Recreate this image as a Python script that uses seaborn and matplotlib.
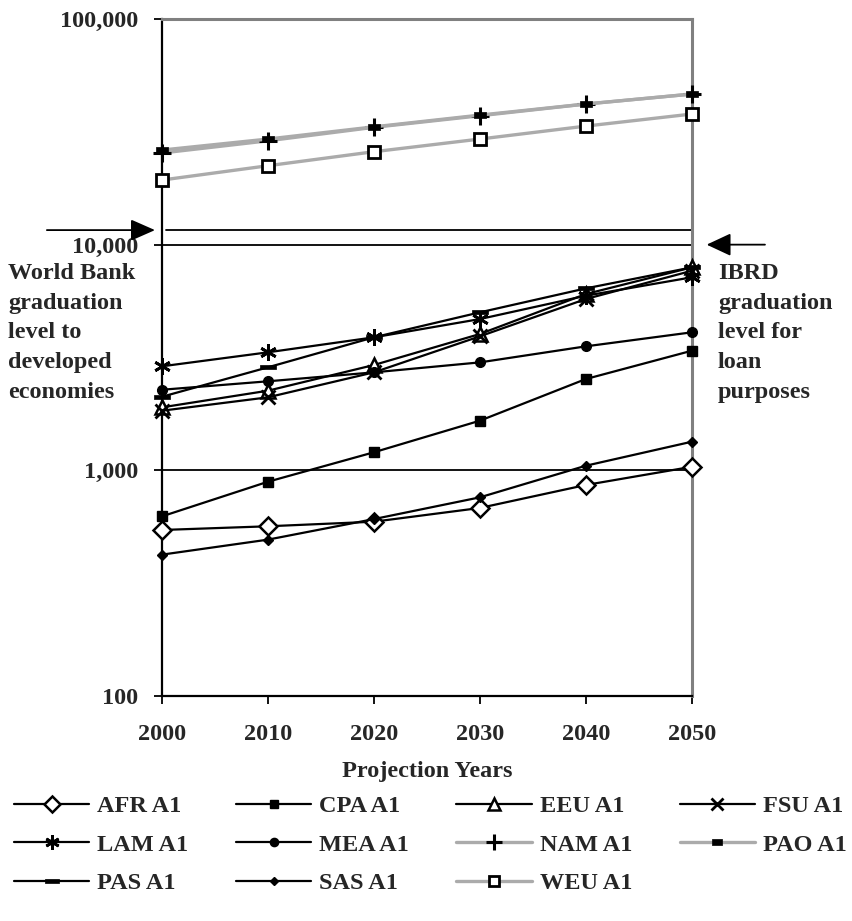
import matplotlib
matplotlib.use('Agg')
import matplotlib.pyplot as plt
import matplotlib.ticker as mticker
import seaborn as sns

# GDP per capita projections (A1 scenario)
years = [2000, 2010, 2020, 2030, 2040, 2050]
afr = [544, 565, 592, 681, 861, 1037]
cpa = [625, 890, 1202, 1659, 2538, 3388]
eeu = [1901, 2253, 2928, 4018, 6040, 7930]
fsu = [1837, 2106, 2717, 3924, 5742, 7660]
lam = [2890, 3333, 3884, 4680, 5940, 7165]
mea = [2275, 2480, 2717, 3008, 3543, 4088]
nam = [25470, 28850, 33100, 37250, 41980, 46470]
pao = [26250, 29370, 33270, 37500, 42000, 46500]
pas = [2118, 2860, 3884, 5012, 6400, 7930]
sas = [423, 493, 608, 759, 1048, 1339]
weu = [19330, 22370, 25810, 29370, 33520, 37910]

names = ['AFR A1', 'CPA A1', 'EEU A1', 'FSU A1', 'LAM A1', 'MEA A1',
         'NAM A1', 'PAO A1', 'PAS A1', 'SAS A1', 'WEU A1']
values = [afr, cpa, eeu, fsu, lam, mea, nam, pao, pas, sas, weu]

wb_level = 11600     # World Bank graduation level
ibrd_level = 10000   # IBRD graduation level
y_ticks = [100, 1000, 10000, 100000]

sns.set_style('ticks')
plt.rcParams['font.family'] = ['Liberation Serif', 'DejaVu Serif']
plt.rcParams['font.weight'] = 'bold'
FS = 17.5

GRAY = '#ababab'
rect = [(-1, -0.55), (1, -0.55), (1, 0.55), (-1, 0.55), (-1, -0.55)]
dash = [(-1, -0.28), (1, -0.28), (1, 0.28), (-1, 0.28), (-1, -0.28)]
styles = {
    'AFR A1': dict(color='black', marker='D', ms=9, mfc='white', mew=1.8),
    'CPA A1': dict(color='black', marker='s', ms=7, mfc='black', mew=1),
    'EEU A1': dict(color='black', marker='^', ms=10, mfc='white', mew=1.8),
    'FSU A1': dict(color='black', marker='x', ms=10, mfc='black', mew=2),
    'LAM A1': dict(color='black', marker=(6, 2, 0), ms=12, mfc='black', mew=2),
    'MEA A1': dict(color='black', marker='o', ms=7, mfc='black', mew=1),
    'NAM A1': dict(color=GRAY, marker='+', ms=13, mfc='black', mew=2.2),
    'PAO A1': dict(color=GRAY, marker=rect, ms=8, mfc='black', mew=0.5),
    'PAS A1': dict(color='black', marker=dash, ms=12, mfc='black', mew=0.5),
    'SAS A1': dict(color='black', marker='D', ms=5, mfc='black', mew=1),
    'WEU A1': dict(color=GRAY, marker='s', ms=9, mfc='white', mew=2),
}

fig = plt.figure(figsize=(8.52, 9.21), dpi=100)
ax = fig.add_axes([0.190, 0.2443, 0.622, 0.7351])

handles = {}
for name, vals in zip(names, values):
    st = styles[name]
    lw = 2.4 if st['color'] == GRAY else 1.6
    sns.lineplot(x=years, y=vals, ax=ax, color=st['color'], lw=lw,
                 marker=st['marker'], ms=st['ms'], mfc=st['mfc'],
                 mec='black', mew=st['mew'], clip_on=False, zorder=3)
    handles[name] = ax.lines[-1]

ax.set_yscale('log')
ax.set_ylim(100, 100000)
ax.set_xlim(2000, 2050)
ax.yaxis.set_major_locator(mticker.FixedLocator(y_ticks))
ax.yaxis.set_minor_locator(mticker.NullLocator())
ax.yaxis.set_major_formatter(mticker.FuncFormatter(lambda v, p: f'{int(v):,}'))
ax.set_xticks(years)
ax.yaxis.grid(True, color='black', lw=1.3)
ax.set_axisbelow(True)

ax.axhline(wb_level, xmin=0.008, xmax=1, color='black', lw=1.3)

for s in ['left', 'bottom']:
    ax.spines[s].set_color('black')
    ax.spines[s].set_linewidth(1.6)
for s in ['top', 'right']:
    ax.spines[s].set_color('#808080')
    ax.spines[s].set_linewidth(2.2)

ax.tick_params(axis='both', direction='out', length=6, width=1.3,
               labelsize=FS, color='black')
ax.tick_params(axis='x', pad=14)
ax.tick_params(axis='y', pad=11)
for lbl in ax.get_xticklabels() + ax.get_yticklabels():
    lbl.set_fontweight('bold')

ax.set_xlabel('Projection Years', fontsize=FS, fontweight='bold', labelpad=12)
ax.set_ylabel('')

# arrows pointing at the graduation levels
ax.annotate('', xy=(-0.013, wb_level), xytext=(-0.217, wb_level),
            xycoords=('axes fraction', 'data'), textcoords=('axes fraction', 'data'),
            arrowprops=dict(arrowstyle='-|>,head_length=0.75,head_width=0.33',
                            mutation_scale=20, color='black', lw=1.3,
                            shrinkA=0, shrinkB=0),
            annotation_clip=False)
ax.annotate('', xy=(1.028, ibrd_level), xytext=(1.138, ibrd_level),
            xycoords=('axes fraction', 'data'), textcoords=('axes fraction', 'data'),
            arrowprops=dict(arrowstyle='-|>,head_length=0.75,head_width=0.35',
                            mutation_scale=20, color='black', lw=1.3,
                            shrinkA=0, shrinkB=0),
            annotation_clip=False)

fig.text(8 / 852, 1 - 263 / 921,
         'World Bank\ngraduation\nlevel to\ndeveloped\neconomies',
         ha='left', va='top', fontsize=FS, fontweight='bold', linespacing=1.54)
fig.text(718 / 852, 1 - 263 / 921,
         'IBRD\ngraduation\nlevel for\nloan\npurposes',
         ha='left', va='top', fontsize=FS, fontweight='bold', linespacing=1.54)

# legend filled row by row (matplotlib fills column-wise)
order = ['AFR A1', 'LAM A1', 'PAS A1', 'CPA A1', 'MEA A1', 'SAS A1',
         'EEU A1', 'NAM A1', 'WEU A1', 'FSU A1', 'PAO A1']
leg = fig.legend([handles[n] for n in order], order, ncol=4,
                 loc='upper left', bbox_to_anchor=(14 / 852, 1 - 795 / 921),
                 frameon=False, handlelength=3.1, markerscale=0.85,
                 handletextpad=0.33, columnspacing=1.95, labelspacing=0.68,
                 borderpad=0, borderaxespad=0, numpoints=1,
                 prop={'weight': 'bold', 'size': FS})

fig.savefig('out.png', dpi=100)
